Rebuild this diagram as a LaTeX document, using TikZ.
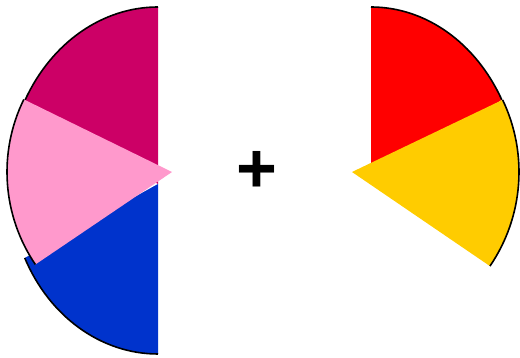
\documentclass[tikz,border=0pt]{standalone}
\usepackage{fontspec}
\setmainfont{Liberation Sans}
\usetikzlibrary{calc}
\definecolor{wineRed}{HTML}{CC0066}
\definecolor{rosePink}{HTML}{FF99CC}
\definecolor{royalBlue}{HTML}{0033CC}
\definecolor{pureRed}{HTML}{FF0000}
\definecolor{goldYellow}{HTML}{FFCC00}

\begin{document}
\begin{tikzpicture}[x=1pt, y=1pt,
    rim/.style={draw=black, line width=1.6pt},
    sign/.style={font=\fontsize{70}{70}\selectfont\bfseries, inner sep=0pt}
]
    \useasboundingbox (0,0) rectangle (520,358);

    % left half
    \coordinate (cMag) at (158,174);
    \coordinate (cPink) at (172,186);
    \fill[wineRed] (cMag) -- ++(90:151pt and 177pt) arc[start angle=90, end angle=151.7, x radius=151pt, y radius=177pt] -- cycle;
    \draw[rim] ($(cMag)+(90:151pt and 177pt)$) arc[start angle=90, end angle=151.7, x radius=151pt, y radius=177pt];
    \fill[royalBlue] (cMag) -- ++(205.8:148pt and 170pt) arc[start angle=205.8, end angle=270, x radius=148pt, y radius=170pt] -- cycle;
    \draw[rim] ($(cMag)+(205.8:148pt and 170pt)$) arc[start angle=205.8, end angle=270, x radius=148pt, y radius=170pt];
    \fill[rosePink] (cPink) -- ++(153.9:165pt) arc[start angle=153.9, end angle=214.1, radius=165pt] -- cycle;
    \draw[rim] ($(cPink)+(153.9:165pt)$) arc[start angle=153.9, end angle=214.1, radius=165pt];

    % right half
    \coordinate (cRed) at (371,173);
    \coordinate (cYel) at (352,186);
    \fill[pureRed] (cRed) -- ++(28.6:149pt and 178pt) arc[start angle=28.6, end angle=90, x radius=149pt, y radius=178pt] -- cycle;
    \draw[rim] ($(cRed)+(28.6:149pt and 178pt)$) arc[start angle=28.6, end angle=90, x radius=149pt, y radius=178pt];
    \fill[goldYellow] (cYel) -- ++(-34.3:167pt) arc[start angle=-34.3, end angle=25.6, radius=167pt] -- cycle;
    \draw[rim] ($(cYel)+(-34.3:167pt)$) arc[start angle=-34.3, end angle=25.6, radius=167pt];

    \node[sign] (plus) at (257,186) {+};
\end{tikzpicture}
\end{document}
